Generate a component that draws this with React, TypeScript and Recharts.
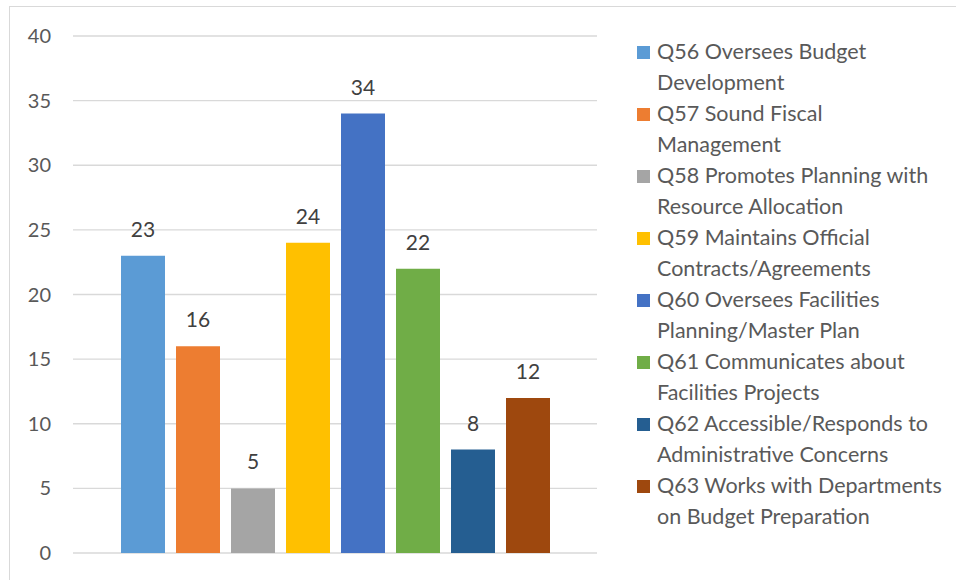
import { BarChart, Bar, XAxis, YAxis, CartesianGrid, LabelList } from 'recharts';

const seriesKeys = ['q56', 'q57', 'q58', 'q59', 'q60', 'q61', 'q62', 'q63'];
const seriesNames = [
  'Q56 Oversees Budget\nDevelopment',
  'Q57 Sound Fiscal\nManagement',
  'Q58 Promotes Planning with\nResource Allocation',
  'Q59 Maintains Official\nContracts/Agreements',
  'Q60 Oversees Facilities\nPlanning/Master Plan',
  'Q61 Communicates about\nFacilities Projects',
  'Q62 Accessible/Responds to\nAdministrative Concerns',
  'Q63 Works with Departments\non Budget Preparation',
];
const seriesValues = [23, 16, 5, 24, 34, 22, 8, 12];
const seriesColors = ['#5B9BD5', '#ED7D31', '#A5A5A5', '#FFC000', '#4472C4', '#70AD47', '#255E91', '#9E480E'];
const yTicks = [0, 5, 10, 15, 20, 25, 30, 35, 40];

const row: Record<string, string | number> = { cat: '' };
seriesKeys.forEach((k, i) => {
  row[k] = seriesValues[i];
});
const data = [row];

const font = 'Lato, Carlito, Calibri, sans-serif';

export default function App() {
  return (
    <div
      style={{
        position: 'absolute',
        left: 9,
        top: 6,
        width: 946,
        height: 580,
        border: '1px solid #d9d9d9',
        background: '#fff',
        fontFamily: font,
      }}
    >
      <BarChart
        width={946}
        height={573}
        data={data}
        margin={{ top: 29, right: 359, bottom: 27, left: 0 }}
        barGap={11}
      >
        <CartesianGrid vertical={false} stroke="#d9d9d9" strokeWidth={1.3} />
        <XAxis dataKey="cat" hide />
        <YAxis
          width={63}
          domain={[0, 40]}
          ticks={yTicks}
          axisLine={false}
          tickLine={false}
          tickSize={0}
          tickMargin={22}
          tick={{ fill: '#595959', fontSize: 20, fontFamily: font }}
        />
        {seriesKeys.map((k, i) => (
          <Bar key={k} dataKey={k} fill={seriesColors[i]} barSize={44} isAnimationActive={false}>
            <LabelList
              dataKey={k}
              position="top"
              offset={19}
              fill="#404040"
              fontSize={21}
              fontFamily={font}
            />
          </Bar>
        ))}
      </BarChart>
      <div style={{ position: 'absolute', left: 627, top: 29 }}>
        {seriesNames.map((name, i) => (
          <div key={name} style={{ position: 'relative', height: 62, paddingLeft: 20 }}>
            <span
              style={{
                position: 'absolute',
                left: 0,
                top: 10,
                width: 13,
                height: 13,
                background: seriesColors[i],
              }}
            />
            <div
              style={{
                whiteSpace: 'pre-line',
                fontSize: 21.5,
                lineHeight: '31px',
                color: '#595959',
              }}
            >
              {name}
            </div>
          </div>
        ))}
      </div>
    </div>
  );
}
